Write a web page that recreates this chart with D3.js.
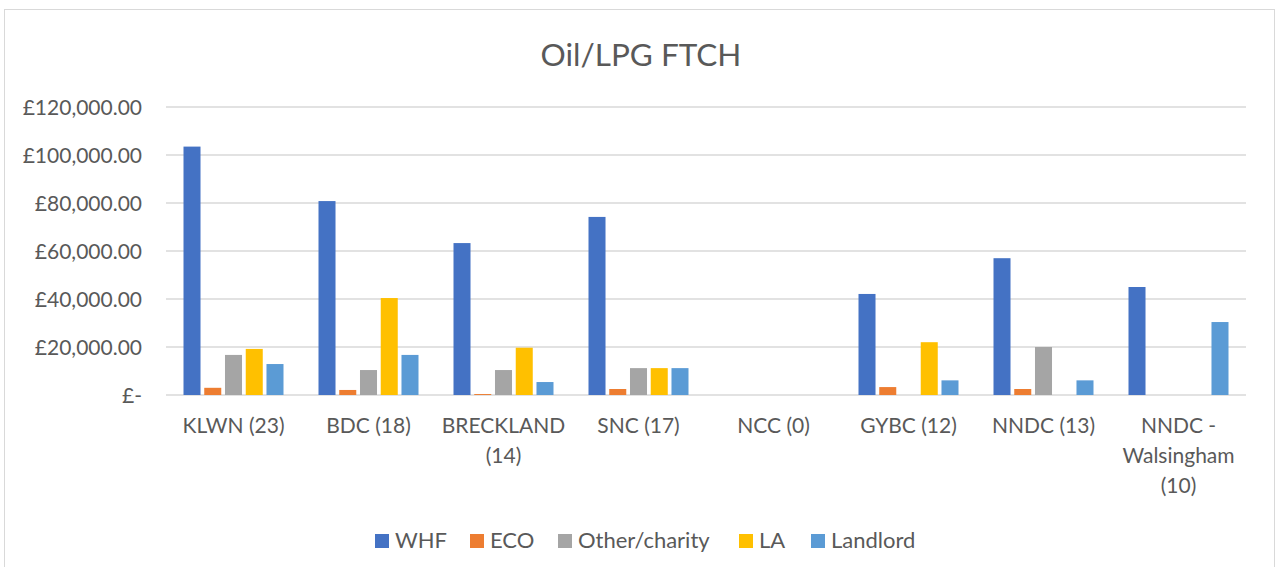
<!DOCTYPE html>
<html><head><meta charset="utf-8">
<script src="https://cdn.jsdelivr.net/npm/d3@7"></script>
<style>body{margin:0;background:#fff;} svg{display:block;}</style>
</head><body>
<svg id="chart" width="1276" height="567"></svg>
<script>
const categories = ["KLWN (23)", "BDC (18)", "BRECKLAND (14)", "SNC (17)", "NCC (0)", "GYBC (12)", "NNDC (13)", "NNDC - Walsingham (10)"];
const seriesNames = ["WHF", "ECO", "Other/charity", "LA", "Landlord"];
const seriesColors = ["#4472C4", "#ED7D31", "#A5A5A5", "#FFC000", "#5B9BD5"];
const WHF = [103500, 80800, 63300, 74200, 0, 42100, 57000, 45000];
const ECO = [3000, 2100, 400, 2500, 0, 3300, 2500, 0];
const OtherCharity = [16700, 10400, 10400, 11200, 0, 0, 20000, 0];
const LA = [19200, 40400, 19700, 11200, 0, 22000, 0, 0];
const Landlord = [12900, 16700, 5400, 11200, 0, 6100, 6100, 30400];
const yTicks = [0, 20000, 40000, 60000, 80000, 100000, 120000];
const title = "Oil/LPG FTCH";

const seriesValues = [WHF, ECO, OtherCharity, LA, Landlord];
const FONT = "Lato, 'Open Sans', sans-serif";
const TXT = "#595959";
const svg = d3.select("#chart");

// chart border
svg.append("rect").attr("x", 4.5).attr("y", 9.5).attr("width", 1270).attr("height", 600)
  .attr("fill", "#fff").attr("stroke", "#d9d9d9").attr("stroke-width", 1);

svg.append("text").attr("x", 641).attr("y", 66).attr("text-anchor", "middle")
  .attr("font-family", FONT).attr("font-size", 31.5).attr("fill", TXT).text(title);

const pLeft = 166, pRight = 1246, pTop = 107, pBottom = 395;
const x0 = d3.scaleBand().domain(categories).range([pLeft, pRight]);
const groupW = 100;
const x1 = d3.scaleBand().domain(seriesNames).range([0, groupW]).paddingInner(0.18).paddingOuter(0);
const y = d3.scaleLinear().domain([0, 120000]).range([pBottom, pTop]);

// gridlines
svg.append("g").selectAll("line").data(yTicks).join("line")
  .attr("x1", pLeft).attr("x2", pRight).attr("y1", d => y(d)).attr("y2", d => y(d))
  .attr("stroke", "#d9d9d9").attr("stroke-width", 1.5);

// y axis labels
const fmt = d3.format(",.2f");
const yAxis = d3.axisLeft(y).tickValues(yTicks).tickSize(0).tickPadding(0)
  .tickFormat(d => d === 0 ? "£-" : "£" + fmt(d));
const ya = svg.append("g").attr("transform", `translate(142,0)`).call(yAxis);
ya.select(".domain").remove();
ya.selectAll("text").attr("font-family", FONT).attr("font-size", 21).attr("fill", TXT).attr("dy", "0.36em");

// bars
const data = [];
categories.forEach((c, i) => seriesNames.forEach((s, j) => data.push({c, s, j, v: seriesValues[j][i]})));
const off = (x0.bandwidth() - groupW) / 2;
svg.append("g").selectAll("rect").data(data.filter(d => d.v > 0)).join("rect")
  .attr("x", d => x0(d.c) + off + x1(d.s))
  .attr("width", x1.bandwidth())
  .attr("y", d => y(d.v))
  .attr("height", d => y(0) - y(d.v))
  .attr("fill", d => seriesColors[d.j]);

// x axis labels with wrapping
const xAxis = d3.axisBottom(x0).tickSize(0).tickPadding(0);
const xa = svg.append("g").attr("transform", `translate(0,${pBottom})`).call(xAxis);
xa.select(".domain").remove();
xa.selectAll("text").attr("font-family", FONT).attr("font-size", 21).attr("fill", TXT)
  .attr("y", 0).attr("dy", null)
  .each(function(d) {
    const t = d3.select(this);
    const words = d.split(" ");
    t.text(null);
    const maxW = 128;
    let lines = [], line = [];
    const probe = t.append("tspan");
    words.forEach(w => {
      const test = line.concat([w]).join(" ");
      probe.text(test);
      if (probe.node().getComputedTextLength() > maxW && line.length) {
        lines.push(line.join(" ")); line = [w];
      } else line.push(w);
    });
    lines.push(line.join(" "));
    probe.remove();
    lines.forEach((l, k) => t.append("tspan").attr("x", 0).attr("y", 38 + k * 30).text(l));
  });

// legend
const legendX = [375, 470, 558, 739, 811];
const lg = svg.append("g");
seriesNames.forEach((s, j) => {
  lg.append("rect").attr("x", legendX[j]).attr("y", 534).attr("width", 14).attr("height", 14).attr("fill", seriesColors[j]);
  lg.append("text").attr("x", legendX[j] + 20).attr("y", 548).attr("font-family", FONT).attr("font-size", 22)
    .attr("fill", TXT).text(s);
});
</script>
</body></html>
